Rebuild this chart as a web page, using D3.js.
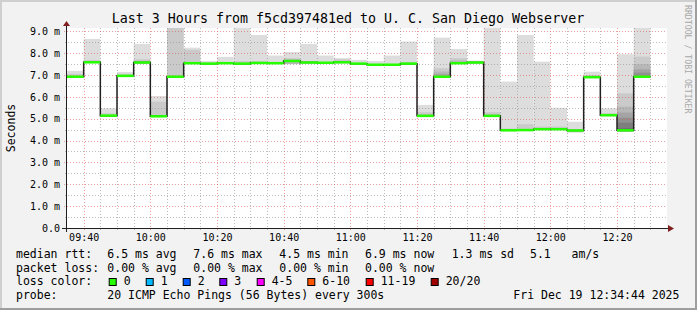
<!DOCTYPE html>
<html lang="en">
<head>
<meta charset="UTF-8">
<title>Last 3 Hours from f5cd397481ed to U. C. San Diego Webserver</title>
<script src="https://cdnjs.cloudflare.com/ajax/libs/d3/7.8.5/d3.min.js"></script>
<style>
    body { margin: 0; padding: 0; background: #f2f2f2; }
    svg text { font-family: "DejaVu Sans Mono", monospace; fill: #000; }
</style>
</head>
<body>
<div id="chart"></div>
<script>
// 5 minute bins, start time of each bin
const binStarts = ["09:35","09:40","09:45","09:50","09:55","10:00","10:05","10:10","10:15","10:20",
    "10:25","10:30","10:35","10:40","10:45","10:50","10:55","11:00","11:05","11:10",
    "11:15","11:20","11:25","11:30","11:35","11:40","11:45","11:50","11:55","12:00",
    "12:05","12:10","12:15","12:20","12:25"];

// median rtt per bin (ms)
const median = [6.92,7.58,5.14,6.96,7.57,5.11,6.92,7.54,7.52,7.54,
    7.52,7.55,7.54,7.64,7.57,7.56,7.58,7.52,7.47,7.47,
    7.52,5.13,6.92,7.54,7.57,5.13,4.47,4.48,4.52,4.52,
    4.46,6.90,5.16,4.47,6.92];

// lowest ping per bin (ms)
const pingMin = [6.88,7.55,5.10,6.92,7.54,5.08,6.88,7.50,7.49,7.50,
    7.48,7.52,7.50,7.50,7.54,7.52,7.54,7.49,7.44,7.44,
    7.48,5.09,6.88,7.50,7.54,5.09,4.43,4.44,4.48,4.48,
    4.36,6.86,5.12,4.43,6.88];

// smoke band tops, outermost first (ping 20, 19, 18, ...), null = not visible
const band1 = [7.19,8.65,5.48,7.14,8.42,6.04,9.60,8.25,7.64,7.83,
    9.50,8.83,7.89,8.05,8.42,7.89,7.77,7.69,7.64,7.89,
    8.53,5.63,8.71,8.19,7.66,9.60,6.70,8.83,7.61,5.50,
    4.86,7.15,5.48,7.95,9.50];
const band2 = [7.05,7.69,5.25,7.05,7.72,5.78,9.30,8.15,null,null,
    7.64,7.64,null,7.77,7.64,null,7.72,null,null,null,
    7.60,5.30,7.31,7.77,null,5.30,4.55,4.75,4.64,4.64,
    null,7.00,5.25,6.16,7.84];
const band3 = [null,null,null,7.00,7.65,null,null,null,null,null,
    null,null,null,7.72,null,null,7.65,null,null,null,
    7.55,5.20,7.16,7.67,null,5.20,null,null,null,null,
    null,null,5.19,5.55,7.49];
const band4 = [null,null,null,null,null,null,null,null,null,null,
    null,null,null,null,null,null,null,null,null,null,
    null,null,7.05,null,null,null,null,null,null,null,
    null,null,null,5.28,7.26];
const band5 = [null,null,null,null,null,null,null,null,null,null,
    null,null,null,null,null,null,null,null,null,null,
    null,null,null,null,null,null,null,null,null,null,
    null,null,null,5.05,7.11];
const band6 = [null,null,null,null,null,null,null,null,null,null,
    null,null,null,null,null,null,null,null,null,null,
    null,null,null,null,null,null,null,null,null,null,
    null,null,null,4.82,null];
const band7 = [null,null,null,null,null,null,null,null,null,null,
    null,null,null,null,null,null,null,null,null,null,
    null,null,null,null,null,null,null,null,null,null,
    null,null,null,4.56,null];
const bands = [band1, band2, band3, band4, band5, band6, band7];
const bandColors = ["#dddddd","#cacaca","#b7b7b7","#a4a4a4","#919191","#7e7e7e","#6b6b6b"];

const yTicks = [0,1,2,3,4,5,6,7,8,9];

const title = "Last 3 Hours from f5cd397481ed to U. C. San Diego Webserver";
const rttStats = ["6.5 ms avg","7.6 ms max","4.5 ms min","6.9 ms now","1.3 ms sd","5.1   am/s"];
const lossStats = ["0.00 % avg","0.00 % max","0.00 % min","0.00 % now"];
const lossLabels = ["0","1","2","3","4-5","6-10","11-19","20/20"];
const lossColors = ["#26ff00","#00b8ff","#0059ff","#7e00ff","#ff00ff","#ff5500","#ff0000","#a10000"];
const probeText = "20 ICMP Echo Pings (56 Bytes) every 300s";
const stamp = "Fri Dec 19 12:34:44 2025";

const W = 697, H = 310;
const pLeft = 67, pRight = 667, pTop = 28, pBottom = 228;
const parse = d3.timeParse("%Y-%m-%d %H:%M");
const t0 = parse("2025-12-19 09:35"), t1 = parse("2025-12-19 12:35");
const starts = binStarts.map(s => parse("2025-12-19 " + s));
const binEnd = d => d3.timeMinute.offset(d, 5);

const x = d3.scaleTime().domain([t0, t1]).range([pLeft, pRight]);
const y = d3.scaleLinear().domain([0, 9.15]).range([pBottom, pTop]);

const svg = d3.select("#chart").append("svg")
    .attr("width", W).attr("height", H).style("display", "block");

// frame
svg.append("rect").attr("width", W).attr("height", H).attr("fill", "#f2f2f2");
svg.append("path").attr("d", `M0,0H${W}V2H2V${H}H0Z`).attr("fill", "#cfcfcf");
svg.append("path").attr("d", `M${W},0V${H}H0V${H-2}H${W-2}V0Z`).attr("fill", "#9e9e9e");

svg.append("rect").attr("x", pLeft).attr("y", pTop)
    .attr("width", pRight - pLeft).attr("height", pBottom - pTop).attr("fill", "#fff");

svg.append("defs").append("clipPath").attr("id", "plot")
    .append("rect").attr("x", pLeft).attr("y", pTop)
    .attr("width", pRight - pLeft).attr("height", pBottom - pTop);

// smoke
const smoke = svg.append("g").attr("clip-path", "url(#plot)");
bands.forEach((band, k) => {
    smoke.append("g").selectAll("rect")
        .data(starts.map((d, i) => ({d, i})).filter(o => band[o.i] != null))
        .enter().append("rect")
        .attr("x", o => x(o.d))
        .attr("width", o => x(binEnd(o.d)) - x(o.d))
        .attr("y", o => y(band[o.i]))
        .attr("height", o => y(pingMin[o.i]) - y(band[o.i]))
        .attr("fill", bandColors[k]);
});

// grid
const grid = svg.append("g").attr("fill", "none").attr("stroke-dasharray", "1,2");
const minorT = d3.timeMinute.every(5).range(d3.timeMinute.offset(t0, 5), t1);
const majorT = d3.timeMinute.every(20).range(t0, t1);
const isMajorT = d => d.getMinutes() % 20 === 0;
grid.selectAll(".vmin").data(minorT.filter(d => !isMajorT(d))).enter().append("line")
    .attr("x1", d => Math.round(x(d)) + 0.5).attr("x2", d => Math.round(x(d)) + 0.5)
    .attr("y1", pTop).attr("y2", pBottom + 2)
    .attr("stroke", "rgba(143,143,143,0.6)");
const minorY = d3.range(1, 19).map(v => v / 2).filter(v => v % 1 !== 0);
grid.selectAll(".hmin").data(minorY).enter().append("line")
    .attr("x1", pLeft - 2).attr("x2", pRight)
    .attr("y1", d => Math.round(y(d)) + 0.5).attr("y2", d => Math.round(y(d)) + 0.5)
    .attr("stroke", "rgba(143,143,143,0.6)");
grid.selectAll(".vmaj").data(majorT).enter().append("line")
    .attr("x1", d => Math.round(x(d)) + 0.5).attr("x2", d => Math.round(x(d)) + 0.5)
    .attr("y1", pTop).attr("y2", pBottom + 3)
    .attr("stroke", "rgba(222,79,79,0.55)");
grid.selectAll(".hmaj").data(yTicks.filter(v => v > 0)).enter().append("line")
    .attr("x1", pLeft - 3).attr("x2", pRight)
    .attr("y1", d => Math.round(y(d)) + 0.5).attr("y2", d => Math.round(y(d)) + 0.5)
    .attr("stroke", "rgba(222,79,79,0.55)");

// median: dark step line, then green segments
const stepPts = starts.map((d, i) => [x(d), y(median[i])]);
stepPts.push([x(binEnd(starts[starts.length - 1])), y(median[median.length - 1])]);
svg.append("path")
    .attr("d", d3.line().curve(d3.curveStepAfter)(stepPts))
    .attr("fill", "none").attr("stroke", "#202020").attr("stroke-width", 1.5);
svg.append("g").selectAll("line").data(starts).enter().append("line")
    .attr("x1", d => x(d)).attr("x2", d => x(binEnd(d)))
    .attr("y1", (d, i) => y(median[i])).attr("y2", (d, i) => y(median[i]))
    .attr("stroke", lossColors[0]).attr("stroke-width", 2.5);

// axes lines and arrows
svg.append("line").attr("x1", pLeft - 5).attr("x2", pRight + 3)
    .attr("y1", pBottom + 0.5).attr("y2", pBottom + 0.5)
    .attr("stroke", "#1f1f1f");
svg.append("line").attr("x1", pLeft - 0.5).attr("x2", pLeft - 0.5)
    .attr("y1", pBottom + 4).attr("y2", pTop - 3)
    .attr("stroke", "#1f1f1f");
svg.append("path").attr("d", `M${pRight + 1},${pBottom - 3}L${pRight + 7},${pBottom + 0.5}L${pRight + 1},${pBottom + 4}Z`)
    .attr("fill", "#7f1f1f");
svg.append("path").attr("d", `M${pLeft - 4},${pTop - 2}L${pLeft - 0.5},${pTop - 7}L${pLeft + 3},${pTop - 2}Z`)
    .attr("fill", "#7f1f1f");

// axis labels
const yAxis = svg.append("g").attr("transform", `translate(${pLeft},0)`)
    .call(d3.axisLeft(y).tickValues(yTicks).tickSize(0).tickPadding(7)
        .tickFormat(v => v === 0 ? "0.0" : v.toFixed(1) + " m"));
const xAxis = svg.append("g").attr("transform", `translate(0,${pBottom})`)
    .call(d3.axisBottom(x).tickValues(d3.timeMinute.every(20).range(d3.timeMinute.offset(t0, 5), t1))
        .tickSize(0).tickPadding(6).tickFormat(d3.timeFormat("%H:%M")));
[yAxis, xAxis].forEach(a => {
    a.select(".domain").remove();
    a.selectAll("text").attr("font-family", "DejaVu Sans Mono").attr("font-size", 10).attr("fill", "#000");
});

svg.append("text").attr("transform", "translate(14.5,128) rotate(-90)")
    .attr("text-anchor", "middle").attr("font-size", 11.5).text("Seconds");

svg.append("text").attr("x", 348).attr("y", 23)
    .attr("text-anchor", "middle").attr("font-size", 13.3).text(title);

svg.append("text").attr("transform", "translate(684.5,5) rotate(90)")
    .attr("font-size", 8.2).style("fill", "#a8a8a8").text("RRDTOOL / TOBI OETIKER");

// legend
const lg = svg.append("g").attr("font-size", 11.5);
const rowY = [258, 271.7, 285.4, 299];
const colX = [107.3, 193.3, 279.3, 365, 451.7, 530];
const txt = (xx, yy, s) => lg.append("text").attr("x", xx).attr("y", yy)
    .style("white-space", "pre").text(s);

txt(16, rowY[0], "median rtt:");
rttStats.forEach((s, i) => txt(colX[i], rowY[0], s));
txt(16, rowY[1], "packet loss:");
lossStats.forEach((s, i) => txt(colX[i], rowY[1], s));
txt(16, rowY[2], "loss color:");
const boxX = [108.7, 145.7, 182.7, 219.3, 256.7, 307.3, 365.7, 430.7];
lossLabels.forEach((s, i) => {
    lg.append("rect").attr("x", boxX[i] + 0.5).attr("y", 278.5)
        .attr("width", 7).attr("height", 7)
        .attr("fill", lossColors[i]).attr("stroke", "#000");
    txt(boxX[i] + 15, rowY[2], s);
});
txt(16, rowY[3], "probe:");
txt(colX[0], rowY[3], probeText);
txt(513.3, rowY[3], stamp);
</script>
</body>
</html>
